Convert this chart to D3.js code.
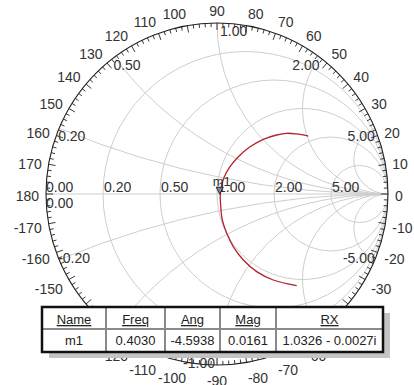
<!DOCTYPE html>
<html>
<head>
<meta charset="utf-8">
<script src="https://cdn.jsdelivr.net/npm/d3@7"></script>
<style>
  body { margin: 0; background: #fff; }
  svg { display: block; font-family: Arial, "Liberation Sans", sans-serif; }
  .grid { fill: none; stroke: #cdcdcd; stroke-width: 1; }
  .lbl { font-size: 14px; fill: #333; }
</style>
</head>
<body>
<div id="chart"></div>
<script>
// grid values
const resistances = [0.2, 0.5, 1, 2, 5];
const reactances = [0.2, 0.5, 1, 2, 5, -0.2, -0.5, -1, -2, -5];
const angleTicks = d3.range(-170, 181, 10);

// trace, reflection coefficient
const traceRe = [0.534, 0.466, 0.408, 0.349, 0.271, 0.193, 0.125, 0.076, 0.043, 0.025, 0.019,
                 0.022, 0.031, 0.057, 0.095, 0.154, 0.232, 0.329, 0.466];
const traceIm = [0.339, 0.351, 0.355, 0.345, 0.320, 0.276, 0.218, 0.160, 0.101, 0.043, -0.006,
                 -0.074, -0.152, -0.230, -0.308, -0.386, -0.454, -0.503, -0.536];

// marker table
const tableHeaders = ["Name", "Freq", "Ang", "Mag", "RX"];
const tableRow = ["m1", "0.4030", "-4.5938", "0.0161", "1.0326 - 0.0027i"];
const markerAng = -4.5938;
const markerMag = 0.0161;

const W = 414, H = 385;
const cx = 217, cy = 194, R = 171;

// table box (labels under it are hidden in the original)
const colWidths = [64, 59, 55, 56, 107];
const tx = 42, ty = 307, rowH = [22, 23];
const tw = d3.sum(colWidths), th = d3.sum(rowH);
const underTable = (px, py) => px > tx && px < tx + tw && py > ty - 4 && py < ty + th + 2;

const svg = d3.select("#chart").append("svg")
    .attr("width", W).attr("height", H);

const x = d3.scaleLinear().domain([-1, 1]).range([cx - R, cx + R]);
const y = d3.scaleLinear().domain([-1, 1]).range([cy + R, cy - R]);
const rad = d => d * Math.PI / 180;

svg.append("clipPath").attr("id", "unit")
    .append("circle").attr("cx", x(0)).attr("cy", y(0)).attr("r", R);

const grid = svg.append("g").attr("clip-path", "url(#unit)");

// constant resistance circles
grid.selectAll(".rcirc").data(resistances).enter().append("circle")
    .attr("class", "grid")
    .attr("cx", r => x(r / (r + 1)))
    .attr("cy", y(0))
    .attr("r", r => x(1 / (r + 1)) - x(0));

// constant reactance arcs
grid.selectAll(".xcirc").data(reactances).enter().append("circle")
    .attr("class", "grid")
    .attr("cx", x(1))
    .attr("cy", v => y(1 / v))
    .attr("r", v => x(1 / Math.abs(v)) - x(0));

grid.append("line").attr("class", "grid")
    .attr("x1", x(-1)).attr("x2", x(1))
    .attr("y1", y(0)).attr("y2", y(0));

// outer circle and ticks
svg.append("circle")
    .attr("cx", x(0)).attr("cy", y(0)).attr("r", R)
    .attr("fill", "none").attr("stroke", "#222").attr("stroke-width", 1.1);

const tickAngles = d3.range(-180, 180, 2);
const tickLen = a => (a % 10 === 0 ? 7 : 4) / R;
svg.append("g").selectAll("line").data(tickAngles).enter().append("line")
    .attr("x1", a => x(Math.cos(rad(a))))
    .attr("y1", a => y(Math.sin(rad(a))))
    .attr("x2", a => x((1 - tickLen(a)) * Math.cos(rad(a))))
    .attr("y2", a => y((1 - tickLen(a)) * Math.sin(rad(a))))
    .attr("stroke", "#222").attr("stroke-width", 0.9);

// angle labels
const kLab = 178 / R;
const angPos = a => [x(kLab * Math.cos(rad(a))), y(kLab * Math.sin(rad(a))) + 7 - 7 * Math.sin(rad(a))];
svg.append("g").selectAll("text")
    .data(angleTicks.filter(a => !underTable(...angPos(a))))
    .enter().append("text")
    .attr("class", "lbl")
    .attr("x", a => angPos(a)[0])
    .attr("y", a => angPos(a)[1])
    .attr("text-anchor", a => {
        const c = Math.cos(rad(a));
        return c > 0.1 ? "start" : c < -0.1 ? "end" : "middle";
    })
    .text(a => a);

// resistance labels along the real axis
svg.append("text").attr("class", "lbl").attr("x", x(-1)).attr("y", y(0) - 2).text("0.00");
svg.append("text").attr("class", "lbl").attr("x", x(-1)).attr("y", y(0) + 14).text("0.00");
svg.append("g").selectAll("text").data(resistances).enter().append("text")
    .attr("class", "lbl")
    .attr("x", r => x((r - 1) / (r + 1)) + 1)
    .attr("y", y(0) - 2)
    .text(r => r.toFixed(2));

// reactance labels on the rim
const gammaOfX = v => [(v * v - 1) / (v * v + 1), 2 * v / (v * v + 1)];
const xLabPos = v => {
    const g = gammaOfX(v);
    const dx = Math.abs(g[0]) < 0.05 ? (v > 0 ? 3 : -2) : (g[0] < 0 ? -1 : 0);
    return [x(g[0]) + dx, y(g[1]) + (v > 0 ? 13 : 3)];
};
svg.append("g").selectAll("text")
    .data(reactances.filter(v => !underTable(...xLabPos(v))))
    .enter().append("text")
    .attr("class", "lbl")
    .attr("x", v => xLabPos(v)[0])
    .attr("y", v => xLabPos(v)[1])
    .attr("text-anchor", v => {
        const g = gammaOfX(v);
        if (Math.abs(g[0]) < 0.05) return v > 0 ? "start" : "end";
        return g[0] < 0 ? "start" : "end";
    })
    .text(v => v.toFixed(2));

// trace
const trace = traceRe.map((re, i) => [re, traceIm[i]]);
svg.append("path")
    .datum(trace)
    .attr("fill", "none")
    .attr("stroke", "#b0222a")
    .attr("stroke-width", 1.3)
    .attr("d", d3.line().x(d => x(d[0])).y(d => y(d[1])).curve(d3.curveCatmullRom));

// marker m1
const mx = x(markerMag * Math.cos(rad(markerAng)));
const my = y(markerMag * Math.sin(rad(markerAng)));
svg.append("path")
    .attr("d", `M${mx},${my} l-3.5,-7 h7 z`)
    .attr("fill", "#888").attr("stroke", "#222").attr("stroke-width", 1);
svg.append("text").attr("class", "lbl")
    .attr("x", mx - 7).attr("y", my - 8)
    .style("font-size", "13px")
    .text(tableRow[0]);

// marker table
const colX = colWidths.map((w, i) => tx + d3.sum(colWidths.slice(0, i)));

const table = svg.append("g");
table.append("rect")
    .attr("x", tx + 7).attr("y", ty + 6).attr("width", tw).attr("height", th)
    .attr("fill", "#c4c4c4");
table.append("rect")
    .attr("x", tx).attr("y", ty).attr("width", tw).attr("height", th)
    .attr("fill", "#fff");
table.append("line")
    .attr("x1", tx).attr("x2", tx + tw)
    .attr("y1", ty + rowH[0]).attr("y2", ty + rowH[0])
    .attr("stroke", "#8a8a8a").attr("stroke-width", 2);
table.selectAll(".vdiv").data(colX.slice(1)).enter().append("line")
    .attr("x1", d => d).attr("x2", d => d)
    .attr("y1", ty).attr("y2", ty + th)
    .attr("stroke", "#8a8a8a").attr("stroke-width", 2);
table.append("rect")
    .attr("x", tx).attr("y", ty).attr("width", tw).attr("height", th)
    .attr("fill", "none").attr("stroke", "#111").attr("stroke-width", 2.5);

table.selectAll(".hdr").data(tableHeaders).enter().append("text")
    .attr("x", (d, i) => colX[i] + colWidths[i] / 2)
    .attr("y", ty + 17)
    .attr("text-anchor", "middle")
    .attr("text-decoration", "underline")
    .style("font-size", "13px").attr("fill", "#222")
    .text(d => d);
table.selectAll(".val").data(tableRow).enter().append("text")
    .attr("x", (d, i) => colX[i] + colWidths[i] / 2)
    .attr("y", ty + rowH[0] + 16)
    .attr("text-anchor", "middle")
    .style("font-size", "13px").attr("fill", "#222")
    .text(d => d);
</script>
</body>
</html>
